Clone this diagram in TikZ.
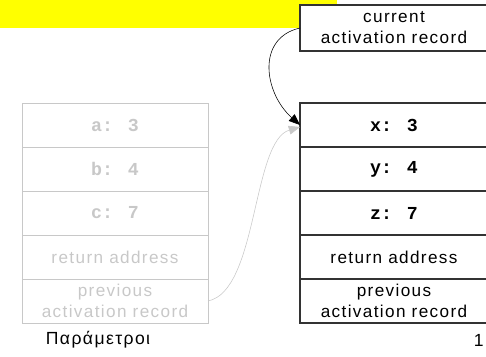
\documentclass[tikz,border=0pt]{standalone}
\usepackage{fontspec}
\setmainfont{Liberation Sans}[LetterSpace=8]
\newfontfamily\codefont{Liberation Mono}
\usetikzlibrary{positioning, arrows.meta}
\definecolor{faded}{RGB}{200,200,200}
\definecolor{banner}{RGB}{255,255,0}
\tikzstyle{oldrec} = [rectangle, minimum width=4.65cm, minimum height=1.1cm, inner sep=0pt, outer sep=0pt, text centered, align=center, draw=faded, text=faded, line width=0.6pt, font=\fontsize{12.2}{15}\selectfont]
\tikzstyle{newrec} = [oldrec, minimum width=4.7cm, draw=black!80, text=black, line width=0.8pt]
\tikzstyle{code} = [font=\fontsize{13}{15}\selectfont\codefont\bfseries]
\tikzstyle{arrow} = [->, >={Triangle[length=0.28cm,width=0.22cm]}]

\begin{document}
\begin{tikzpicture}
\useasboundingbox (0,0) rectangle (12.15,8.925);
\fill [banner] (0,8.225) rectangle (8.425,8.925);

\node (cur) [newrec, fill=white, minimum height=1.15cm, anchor=north west] at (7.5,8.8) {current\\activation record};

\node (a) [oldrec, code, anchor=north west] at (0.55,6.35) {a: 3};
\node (b) [oldrec, code, below=0pt of a] {b: 4};
\node (c) [oldrec, code, below=0pt of b] {c: 7};
\node (retold) [oldrec, below=0pt of c] {return address};
\node (prevold) [oldrec, below=0pt of retold] {previous\\activation record};

\node (x) [newrec, code, anchor=north west] at (7.5,6.35) {x: 3};
\node (y) [newrec, code, below=0pt of x] {y: 4};
\node (z) [newrec, code, below=0pt of y] {z: 7};
\node (ret) [newrec, below=0pt of z] {return address};
\node (prev) [newrec, below=0pt of ret] {previous\\activation record};

\node (title) [font=\fontsize{12.5}{14}\selectfont] at (2.45,0.42) {Παράμετροι};
\node (page) [font=\fontsize{12.5}{14}\selectfont] at (11.97,0.42) {1};

\draw [arrow, faded] (prevold.east) .. controls +(1.25,0.25) and +(-1.2,-0.35) .. ([yshift=-0.05cm]x.west);
\draw [arrow] (cur.west) .. controls +(-1.1,-0.25) and +(-0.9,0.8) .. (x.west);
\end{tikzpicture}
\end{document}
